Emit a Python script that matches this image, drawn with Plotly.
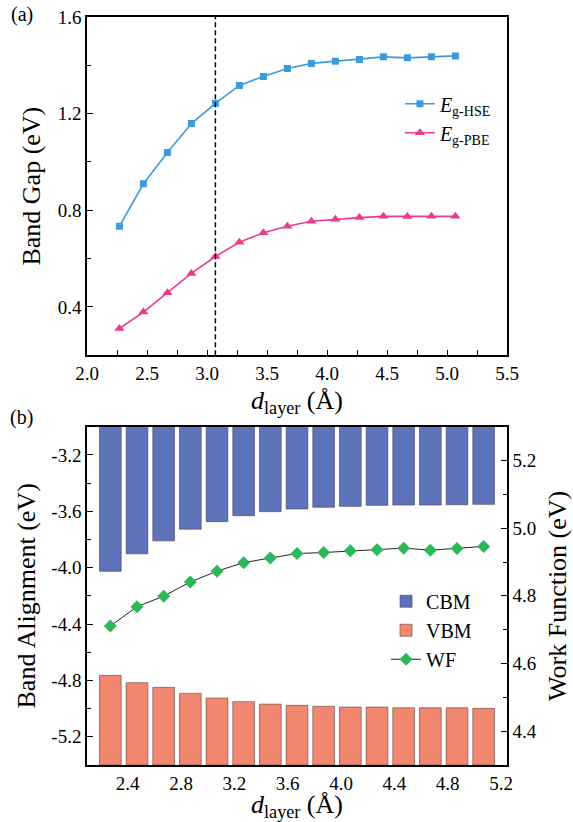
import plotly.graph_objects as go

# Interlayer distance (Å)
d_layer = [2.27, 2.47, 2.67, 2.87, 3.07, 3.27, 3.47, 3.67, 3.87, 4.07, 4.27, 4.47, 4.67, 4.87, 5.07]

# (a) band gaps (eV)
eg_hse = [0.734, 0.910, 1.039, 1.159, 1.243, 1.317, 1.354, 1.387, 1.408, 1.417, 1.424, 1.435, 1.431, 1.435, 1.439]
eg_pbe = [0.311, 0.379, 0.459, 0.539, 0.609, 0.668, 0.707, 0.734, 0.755, 0.763, 0.770, 0.775, 0.774, 0.775, 0.775]
d_equilibrium = 3.07

# (b) band edges (eV) and work function (eV)
cbm = [-4.026, -3.902, -3.810, -3.727, -3.674, -3.632, -3.603, -3.584, -3.572, -3.565, -3.558, -3.556, -3.556, -3.554, -3.551]
vbm = [-4.764, -4.816, -4.849, -4.892, -4.925, -4.951, -4.968, -4.977, -4.984, -4.989, -4.989, -4.994, -4.994, -4.994, -4.998]
wf = [4.711, 4.768, 4.799, 4.841, 4.873, 4.898, 4.912, 4.925, 4.928, 4.933, 4.936, 4.941, 4.935, 4.940, 4.946]

# Axis ticks
xa_ticks = [2.0, 2.5, 3.0, 3.5, 4.0, 4.5, 5.0, 5.5]
ya_ticks = [0.4, 0.8, 1.2, 1.6]
xb_ticks = [2.4, 2.8, 3.2, 3.6, 4.0, 4.4, 4.8, 5.2]
yb_ticks = [-5.2, -4.8, -4.4, -4.0, -3.6, -3.2]
yb_ticktext = ["-5.2", "-4.8", "-4.4", "-4.0", "-3.6", "-3.2"]
wf_ticks = [4.4, 4.6, 4.8, 5.0, 5.2]

yb_range = [-5.4, -3.0]

FONT = "'Liberation Serif', 'Times New Roman', 'DejaVu Serif', serif"
TICK_FONT = dict(family=FONT, size=19, color="black")
TITLE_FONT = dict(family=FONT, size=26, color="black")
X_TITLE = "<i>d</i><sub>layer</sub> (Å)"

fig = go.Figure()

# ---- (a) band gap vs interlayer distance
fig.add_trace(go.Scatter(
    x=d_layer, y=eg_hse, mode="lines+markers",
    name="<i>E</i><sub>g-HSE</sub>",
    line=dict(color="#3c9bd8", width=1.6),
    marker=dict(symbol="square", size=7, color="#3c9bd8"),
    xaxis="x", yaxis="y", legend="legend",
))
fig.add_trace(go.Scatter(
    x=d_layer, y=eg_pbe, mode="lines+markers",
    name="<i>E</i><sub>g-PBE</sub>",
    line=dict(color="#ec3b8c", width=1.6),
    marker=dict(symbol="triangle-up", size=9, color="#ec3b8c"),
    xaxis="x", yaxis="y", legend="legend",
))

# ---- (b) band alignment: CBM bars hang from above, VBM bars rise from below
fig.add_trace(go.Bar(
    x=d_layer, y=cbm, name="CBM",
    marker=dict(color="#5d72b8", line=dict(color="rgba(70,70,90,0.6)", width=1)),
    width=0.163, xaxis="x2", yaxis="y2", legend="legend2",
))
fig.add_trace(go.Bar(
    x=d_layer, base=vbm, y=[yb_range[0] - v for v in vbm], name="VBM",
    marker=dict(color="#f2876f", line=dict(color="rgba(90,70,70,0.6)", width=1)),
    width=0.163, xaxis="x2", yaxis="y2", legend="legend2",
))
fig.add_trace(go.Scatter(
    x=d_layer, y=wf, mode="lines+markers", name="WF",
    line=dict(color="#222222", width=1),
    marker=dict(symbol="diamond", size=10, color="#2cb85a"),
    xaxis="x2", yaxis="y3", legend="legend2",
))

# Dashed marker at the equilibrium interlayer distance
fig.add_shape(
    type="line", xref="x", yref="y domain",
    x0=d_equilibrium, x1=d_equilibrium, y0=0, y1=1,
    line=dict(color="black", width=1.5, dash="5px,3px"),
)

axis_common = dict(
    showline=True, linecolor="black", linewidth=1.5,
    showgrid=False, zeroline=False, automargin=False,
    ticks="inside", ticklen=6, tickwidth=1.2, tickcolor="black",
    tickfont=TICK_FONT,
)

fig.update_layout(
    width=573, height=822,
    margin=dict(l=87, r=66, t=17, b=57),
    paper_bgcolor="white", plot_bgcolor="white",
    barmode="overlay",
    font=dict(family=FONT, color="black"),
    xaxis=dict(
        **axis_common, domain=[0, 1], anchor="y", mirror=True,
        range=[2.0, 5.5], tickvals=xa_ticks, tickformat=".1f",
        minor=dict(dtick=0.25, tick0=2.0, ticks="inside", ticklen=6, tickcolor="black"),
    ),
    yaxis=dict(
        **axis_common, domain=[0.5477, 1.0], anchor="x", mirror=True,
        range=[0.2, 1.6], tickvals=ya_ticks, tickformat=".1f",
        minor=dict(dtick=0.2, tick0=0.2, ticks="inside", ticklen=4, tickcolor="black"),
        title=dict(text="Band Gap (eV)", font=TITLE_FONT, standoff=10),
    ),
    xaxis2=dict(
        showline=True, linecolor="black", linewidth=1.5, mirror=True,
        showgrid=False, zeroline=False, ticks="", automargin=False,
        tickfont=TICK_FONT, domain=[0, 1], anchor="y2",
        range=[2.095, 5.245], tickvals=xb_ticks, tickformat=".1f",
    ),
    yaxis2=dict(
        **axis_common, domain=[0.0, 0.4523], anchor="x2",
        range=yb_range, tickvals=yb_ticks, ticktext=yb_ticktext,
        minor=dict(dtick=0.2, tick0=-3.0, ticks="inside", ticklen=4, tickcolor="black"),
        title=dict(text="Band Alignment (eV)", font=TITLE_FONT, standoff=8),
    ),
    yaxis3=dict(
        **axis_common, anchor="x2", overlaying="y2", side="right",
        range=[4.3, 5.3], tickvals=wf_ticks, tickformat=".1f",
        minor=dict(dtick=0.1, tick0=4.3, ticks="inside", ticklen=4, tickcolor="black"),
        title=dict(text="Work Function (eV)", font=TITLE_FONT, standoff=12),
    ),
    legend=dict(
        x=0.745, y=0.91, xanchor="left", yanchor="top",
        bgcolor="rgba(0,0,0,0)", font=dict(family=FONT, size=20, color="black"),
    ),
    legend2=dict(
        x=0.712, y=0.245, xanchor="left", yanchor="top",
        bgcolor="rgba(0,0,0,0)", font=dict(family=FONT, size=20, color="black"),
    ),
    annotations=[
        # x-axis titles of both panels
        dict(text=X_TITLE, xref="paper", yref="paper", x=0.5, y=0.4853,
             xanchor="center", yanchor="middle", showarrow=False, font=TITLE_FONT),
        dict(text=X_TITLE, xref="paper", yref="paper", x=0.5, y=-0.0548,
             xanchor="center", yanchor="middle", showarrow=False, font=TITLE_FONT),
        # panel labels
        dict(text="(a)", xref="paper", yref="paper", x=-0.155, y=1.003,
             xanchor="center", yanchor="middle", showarrow=False,
             font=dict(family=FONT, size=20, color="black")),
        dict(text="(b)", xref="paper", yref="paper", x=-0.155, y=0.4645,
             xanchor="center", yanchor="middle", showarrow=False,
             font=dict(family=FONT, size=20, color="black")),
    ],
)

fig.write_html("out.html")
